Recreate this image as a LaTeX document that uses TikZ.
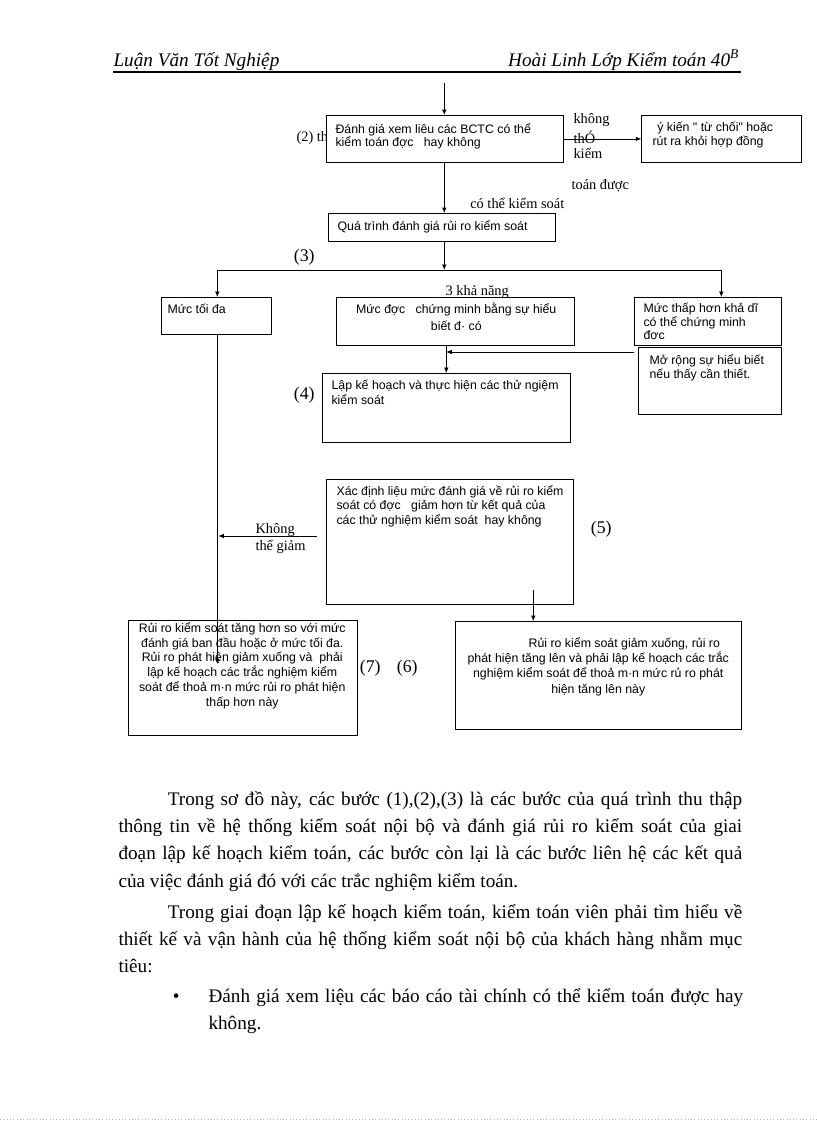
\documentclass[tikz,border=0pt]{standalone}
\usepackage{fontspec}
\setmainfont{Liberation Serif}
\newfontfamily\arialfont{Liberation Sans}
\usetikzlibrary{arrows.meta}
\def\pxl{*0.7295pt}

\begin{document}
\begin{tikzpicture}[x=0.7295pt, y=-0.7295pt, >={Latex[length=4pt,width=3.4pt]},
        box/.style={draw, line width=0.6pt, fill=white, inner sep=0pt, anchor=north west},
        btxt/.style={inner sep=0pt, align=left, anchor=north west, font=\arialfont\fontsize{9}{#1}\selectfont},
        btxt/.default=10.5,
        lbl/.style={inner sep=0pt, font=\fontsize{10.5}{12.4}\selectfont},
        num/.style={inner sep=0pt, font=\fontsize{13}{15}\selectfont},
        para/.style={inner sep=0pt, anchor=north west, align=justify, font=\fontsize{14}{19.9}\selectfont},
        arr/.style={->, line width=0.6pt}, ln/.style={line width=0.6pt}]
        \path[fill=white] (0,0) rectangle (816,1123);
        % header
        \node[anchor=base west, inner sep=0pt, font=\itshape\fontsize{14}{16}\selectfont] (hdleft) at (113,66) {Luận Văn Tốt Nghiệp};
        \node[anchor=base east, inner sep=0pt, font=\itshape\fontsize{14}{16}\selectfont] (hdright) at (739,66) {Hoài Linh Lớp Kiểm toán 40\textsuperscript{B}};
        \draw[line width=0.8pt] (113,72) -- (741,72);
        \node[lbl, anchor=west] (step2) at (296,138) {(2) th};
        % boxes
        \node[box, minimum width=237\pxl, minimum height=47\pxl] (evalbox) at (326,115) {};
        \node[box, minimum width=160\pxl, minimum height=47\pxl] (refusebox) at (641,115) {};
        \node[box, minimum width=227\pxl, minimum height=28\pxl] (riskbox) at (328,213) {};
        \node[box, minimum width=110\pxl, minimum height=37\pxl] (maxbox) at (161,297) {};
        \node[box, minimum width=238\pxl, minimum height=48\pxl] (provenbox) at (336,297) {};
        \node[box, minimum width=147\pxl, minimum height=48\pxl] (lowbox) at (634,297) {};
        \node[box, minimum width=143\pxl, minimum height=67\pxl] (extendbox) at (638,347) {};
        \node[box, minimum width=248\pxl, minimum height=69\pxl] (planbox) at (322,373) {};
        \node[box, minimum width=247\pxl, minimum height=125\pxl] (decidebox) at (326,479) {};
        \node[box, minimum width=229\pxl, minimum height=115\pxl] (upbox) at (128,620) {};
        \node[box, minimum width=286\pxl, minimum height=108\pxl] (downbox) at (455,621) {};
        % box texts
        \node[btxt=9.5] (evaltxt) at (335,123) {Đánh giá xem liêu các BCTC có thể\\kiểm toán đợc \ \ hay không};
        \node[btxt=10.2] (refusetxt) at (652,122) {\hspace*{3.5pt}ý kiến " từ chối" hoặc\\rút ra khỏi hợp đồng};
        \node[btxt] (risktxt) at (337,220) {Quá trình đánh giá rủi ro kiểm soát};
        \node[btxt] (maxtxt) at (167,304) {Mức tối đa};
        \node[btxt=12, align=center, anchor=north] (proventxt) at (456,303) {Mức đợc \ \ chứng minh bằng sự hiểu\\biết đ· có};
        \begin{scope}
                \clip (634,297) rectangle (781,339);
                \node[btxt=9.8] (lowtxt) at (643,303) {Mức thấp hơn khả dĩ\\có thể chứng minh\\đ­ợc};
        \end{scope}
        \node[btxt] (extendtxt) at (649,354) {Mở rộng sự hiểu biết\\nếu thấy cần thiết.};
        \node[btxt=11] (plantxt) at (331,380) {Lập kế hoạch và thực hiện các thử ngiệm\\kiểm soát};
        \node[btxt=10.6] (decidetxt) at (336,485) {Xác định liệu mức đánh giá về rủi ro kiểm\\soát có đợc \ \ giảm hơn từ kết quả của\\các thử nghiệm kiểm soát \ hay không};
        \node[btxt=10.8, align=center, anchor=north] (uptxt) at (242,622) {Rủi ro kiểm soát tăng hơn so với mức\\đánh giá ban đầu hoặc ở mức tối đa.\\Rủi ro phát hiện giảm xuống và \ phải\\lập kế hoạch các trắc nghiệm kiểm\\soát để thoả m·n mức rủi ro phát hiện\\thấp hơn này};
        \node[btxt=11.2, align=center, anchor=north] (downtxt) at (598,637) {\hspace*{38pt}Rủi ro kiểm soát giảm xuống, rủi ro\\phát hiện tăng lên và phải lập kế hoạch các trắc\\nghiệm kiểm soát để thoả m·n mức rủ ro phát\\hiện tăng lên này};
        % labels
        \node[lbl, anchor=west] (nolbl1) at (573,120) {không};
        \node[lbl, anchor=west] (nolbl2) at (573,137) {thÓ};
        \node[lbl, anchor=west] (nolbl3) at (573,153) {kiểm};
        \node[lbl, anchor=west] (nolbl4) at (571,186) {toán được};
        \node[lbl] (yeslbl) at (517,203) {có thể kiểm soát};
        \node[num] (step3) at (304,257) {(3)};
        \node[lbl] (threelbl) at (477,292) {3 khả năng};
        \node[num] (step4) at (304,395) {(4)};
        \node[num] (step5) at (601,529) {(5)};
        \node[lbl, align=left, anchor=west] (nolesslbl) at (255,539) {Không\\thể giảm};
        \node[num] (step7) at (370,668) {(7)};
        \node[num] (step6) at (407,668) {(6)};
        % connectors
        \coordinate (feed) at (444,83);
        \coordinate (split) at (444,270);
        \coordinate (lft) at (217,270);
        \coordinate (rgt) at (721,270);
        \coordinate (join) at (446,352);
        \coordinate (noless) at (218,536);
        \coordinate (nolessst) at (317,536);
        \coordinate (lessst) at (533,590);
        \coordinate (maxend) at (217,664);
        \draw[arr] (feed) -- (feed |- evalbox.north);
        \draw[arr] (evalbox.east) -- (refusebox.west);
        \draw[arr] (feed |- evalbox.south) -- (feed |- riskbox.north);
        \draw[arr] (split |- riskbox.south) -- (split);
        \draw[ln] (lft) -- (rgt);
        \draw[arr] (lft) -- (lft |- maxbox.north);
        \draw[arr] (rgt) -- (rgt |- lowbox.north);
        \draw[arr] (lft |- maxbox.south) -- (maxend);
        \draw[arr] (join |- provenbox.south) -- (join |- planbox.north);
        \draw[arr] (join -| lowbox.west) -- (join);
        \draw[arr] (nolessst) -- (noless);
        \draw[arr] (lessst) -- (lessst |- downbox.north);
        % text below
        \node[para, text width=455pt] (para1) at (118,786) {\strut\hspace*{36pt}Trong sơ đồ này, các bước (1),(2),(3) là các bước của quá trình thu thập\linebreak thông tin về hệ thống kiểm soát nội bộ và đánh giá rủi ro kiểm soát của giai\linebreak đoạn lập kế hoạch kiểm toán, các bước còn lại là các bước liên hệ các kết quả\linebreak của việc đánh giá đó với các trắc nghiệm kiểm toán.};
        \node[para, text width=455pt] (para2) at (118,899) {\strut\hspace*{36pt}Trong giai đoạn lập kế hoạch kiểm toán, kiểm toán viên phải tìm hiểu về\linebreak thiết kế và vận hành của hệ thống kiểm soát nội bộ của khách hàng nhằm mục\linebreak tiêu:};
        \node[anchor=base, inner sep=0pt, font=\fontsize{14}{19.9}\selectfont] (dot1) at (176,1002) {•};
        \node[para, text width=390pt] (bullet1) at (208,983) {\strut Đánh giá xem liệu các báo cáo tài chính có thể kiểm toán được hay\linebreak không.};
        \draw[gray!60, dotted] (0,1119) -- (816,1119);
\end{tikzpicture}
\end{document}
